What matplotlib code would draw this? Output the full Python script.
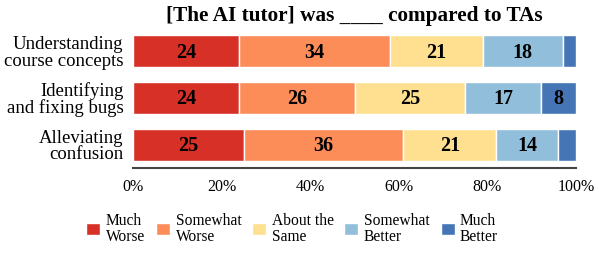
import numpy as np
import matplotlib.pyplot as plt
from matplotlib.ticker import PercentFormatter

plt.rcParams['font.family'] = ['Liberation Serif', 'DejaVu Serif']

categories = ['Understanding\ncourse concepts', 'Identifying\nand fixing bugs', 'Alleviating\nconfusion']
responses = ['Much\nWorse', 'Somewhat\nWorse', 'About the\nSame', 'Somewhat\nBetter', 'Much\nBetter']
much_worse = [24, 24, 25]
somewhat_worse = [34, 26, 36]
about_same = [21, 25, 21]
somewhat_better = [18, 17, 14]
much_better = [3, 8, 4]
colors = ['#d73027', '#fc8d59', '#fee090', '#91bfdb', '#4575b4']

series = [much_worse, somewhat_worse, about_same, somewhat_better, much_better]

fig = plt.figure(figsize=(5.99, 2.58), dpi=100)
ax = fig.add_axes([133/599, 1-168/258, 443/599, 140/258])

y = np.arange(len(categories))
left = np.zeros(len(categories))
for vals, lab, col in zip(series, responses, colors):
    vals = np.array(vals, dtype=float)
    ax.barh(y, vals, left=left, height=0.68, color=col, edgecolor='white', linewidth=1, label=lab)
    for yi, (l, v) in enumerate(zip(left, vals)):
        if v >= 5:
            ax.text(l + v/2, yi + 0.03, f'{int(v)}', ha='center', va='center', fontsize=14.5, fontweight='bold')
    left += vals

ax.set_xlim(0, 100)
ax.set_ylim(2.5, -0.5)
ax.set_yticks(y)
ax.set_yticklabels(categories, fontsize=13.5, linespacing=0.95)
ax.xaxis.set_major_formatter(PercentFormatter(decimals=0))
ax.set_xticks([0, 20, 40, 60, 80, 100])
ax.tick_params(axis='x', labelsize=11.5, length=0, pad=8)
ax.tick_params(axis='y', length=0, pad=7)
for s in ['top', 'right', 'left']:
    ax.spines[s].set_visible(False)
ax.spines['bottom'].set_color('#444444')
ax.spines['bottom'].set_linewidth(1.5)
ax.set_title('[The AI tutor] was ____ compared to TAs', fontsize=15.3, fontweight='bold', pad=5)

leg = fig.legend(loc='upper center', bbox_to_anchor=(0.488, 0.23), ncol=5, frameon=False,
                 fontsize=11.2, handlelength=0.9, handleheight=0.85, handletextpad=0.35,
                 columnspacing=0.7, labelspacing=0.2)
for t in leg.get_texts():
    t.set_linespacing(1.0)

fig.savefig('out.png', dpi=100)
